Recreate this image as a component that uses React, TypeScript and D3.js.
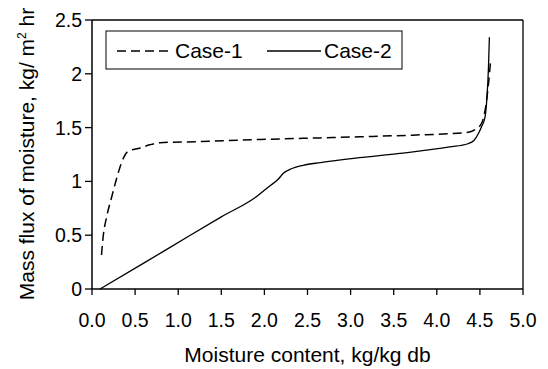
import React from "react";
import * as d3 from "d3";

const case1X = [0.11, 0.13, 0.17, 0.23, 0.29, 0.345, 0.42, 0.56, 0.67, 0.79, 1.25, 1.95, 2.45, 3.11, 3.72, 4.35, 4.46, 4.52, 4.56, 4.6, 4.625];
const case1Y = [0.316, 0.49, 0.67, 0.86, 1.04, 1.18, 1.28, 1.31, 1.34, 1.36, 1.37, 1.39, 1.40, 1.415, 1.43, 1.455, 1.49, 1.54, 1.66, 1.91, 2.13];

const case2X = [0.093, 0.6, 1.14, 1.5, 1.91, 2.05, 2.16, 2.22, 2.32, 2.45, 2.65, 3.1, 3.57, 4.15, 4.36, 4.43, 4.48, 4.52, 4.56, 4.58, 4.6, 4.61];
const case2Y = [0.0, 0.24, 0.5, 0.67, 0.86, 0.95, 1.02, 1.075, 1.12, 1.15, 1.175, 1.22, 1.26, 1.32, 1.35, 1.38, 1.44, 1.51, 1.6, 1.76, 2.07, 2.34];

const xTicks = [0, 0.5, 1, 1.5, 2, 2.5, 3, 3.5, 4, 4.5, 5];
const yTicks = [0, 0.5, 1, 1.5, 2, 2.5];
const seriesNames = ["Case-1", "Case-2"];

const W = 548, H = 369;
const L = 92, R = 523, T = 20, B = 289;
const FONT = "'Liberation Sans', Arial, sans-serif";

export default function App() {
  const x = d3.scaleLinear().domain([0, 5]).range([L, R]);
  const y = d3.scaleLinear().domain([0, 2.5]).range([B, T]);
  const line = d3.line<[number, number]>().x(d => x(d[0])).y(d => y(d[1])).curve(d3.curveMonotoneX);
  const p1 = line(case1X.map((v, i) => [v, case1Y[i]] as [number, number])) || "";
  const p2 = line(case2X.map((v, i) => [v, case2Y[i]] as [number, number])) || "";
  return (
    <svg width={W} height={H} style={{ position: "absolute", left: 0, top: 0, background: "#fff" }} fontFamily={FONT}>
      <rect x={0} y={0} width={W} height={H} fill="#fff" />
      <line x1={L} y1={T} x2={R} y2={T} stroke="#000" strokeWidth={1.3} />
      <line x1={R} y1={T} x2={R} y2={B} stroke="#000" strokeWidth={1.3} />
      <line x1={L} y1={T} x2={L} y2={B} stroke="#000" strokeWidth={1.5} />
      <line x1={L} y1={B} x2={R} y2={B} stroke="#000" strokeWidth={1.5} />
      {xTicks.map(t => (
        <g key={"x" + t}>
          <line x1={x(t)} x2={x(t)} y1={B} y2={B + 6} stroke="#000" strokeWidth={1.3} />
          <text x={x(t)} y={327} fontSize={19.5} textAnchor="middle">{t.toFixed(1)}</text>
        </g>
      ))}
      {yTicks.map(t => (
        <g key={"y" + t}>
          <line x1={L - 7} x2={L} y1={y(t)} y2={y(t)} stroke="#000" strokeWidth={1.3} />
          <text x={82} y={y(t) + 7} fontSize={19.5} textAnchor="end">{String(t)}</text>
        </g>
      ))}
      <path d={p1} fill="none" stroke="#000" strokeWidth={1.5} strokeDasharray="9,5" />
      <path d={p2} fill="none" stroke="#000" strokeWidth={1.3} />
      <rect x={106} y={31} width={296} height={38} fill="#fff" stroke="#000" strokeWidth={1} />
      <line x1={117} x2={168} y1={51} y2={51} stroke="#000" strokeWidth={1.5} strokeDasharray="9,5" />
      <text x={175} y={57.5} fontSize={21}>{seriesNames[0]}</text>
      <line x1={267} x2={321} y1={51} y2={51} stroke="#000" strokeWidth={1.3} />
      <text x={324} y={57.5} fontSize={21}>{seriesNames[1]}</text>
      <text x={(L + R) / 2} y={362} fontSize={21} textAnchor="middle">Moisture content, kg/kg db</text>
      <text transform="translate(34,154) rotate(-90)" fontSize={21} textAnchor="middle">
        Mass flux of moisture, kg/ m<tspan dy={-8} fontSize={12}>2</tspan><tspan dy={8}> hr</tspan>
      </text>
    </svg>
  );
}
